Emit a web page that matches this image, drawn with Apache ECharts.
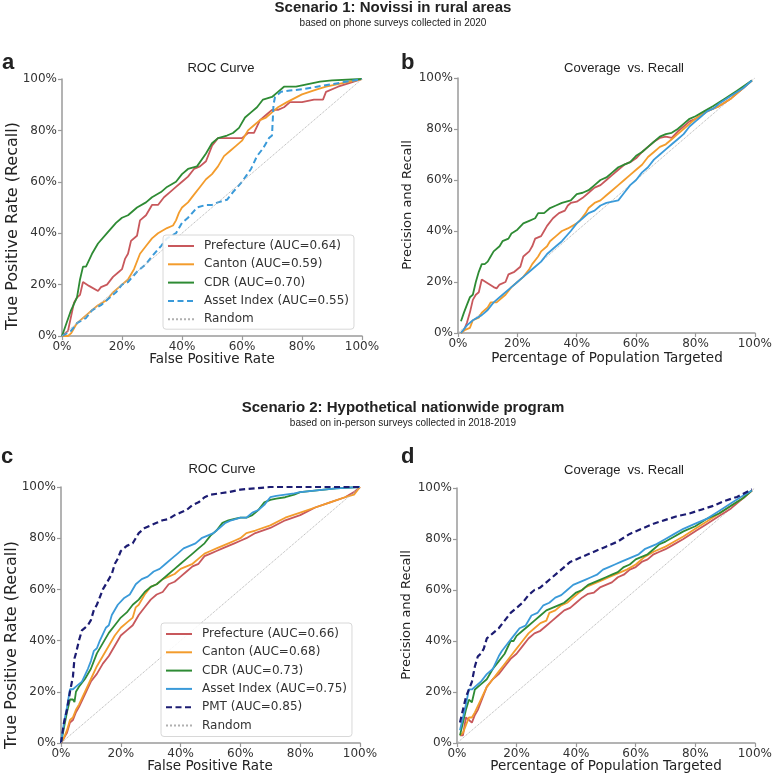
<!DOCTYPE html>
<html>
<head>
<meta charset="utf-8">
<script src="https://cdn.jsdelivr.net/npm/echarts@6/dist/echarts.min.js"></script>
<style>html,body{margin:0;padding:0;background:#fff}#c{width:775px;height:778px}</style>
</head>
<body>
<div id="c"></div>
<script>
// ---------- Data (x = %, y = %) ----------
const tickValues = [0, 20, 40, 60, 80, 100];
const randomLine = [[0, 0], [100, 100]];

// Panel a: ROC, Scenario 1
const aPrefecture = [[0,0],[2,2],[4,13],[5,15],[6,16],[7,21],[9,19.5],[12,17.5],[13,19],[15,20],[17,23],[19,25],[20,26],[21,30],[22,32],[23,37],[25,39],[26,45],[28,47],[30,51],[32,51],[34,54],[36,56],[38,58],[40,60],[42,62],[44,65],[46,66],[48,68],[50,74],[52,77],[55,77],[58,77],[60,77],[62,79],[64,79],[66,84],[68,86],[70,88],[72,88],[74,89],[76,91],[80,91],[84,92],[87,92],[88,95],[92,97],[96,98.5],[100,100]];
const aCanton = [[0,0],[2,0],[3,1],[4,3],[5,5],[8,8],[10,10],[12,12],[15,14],[17,17],[20,20],[22,22],[24,26],[26,32],[28,35],[30,38],[32,40],[35,42],[37,43],[38,45],[39,48],[40,50],[42,52],[44,55],[46,58],[48,61],[50,63],[52,66],[54,70],[56,72],[58,74],[60,76],[62,80],[64,82],[66,84],[68,85],[70,87],[72,89],[75,91],[80,94],[85,96],[88,97],[92,98],[100,100]];
const aCDR = [[0,0],[3,10],[5,15],[6,22],[7,27],[8,27],[10,32],[12,36],[15,40],[18,44],[20,46],[22,47],[25,50],[28,52],[30,54],[33,56],[35,58],[38,60],[40,63],[42,65],[45,66],[48,71],[50,75],[52,77],[55,78],[57,79],[59,81],[61,85],[63,87],[65,89],[67,92],[70,93],[72,95],[74,97],[78,97],[82,98],[86,99],[90,99.5],[100,100]];
const aAsset = [[0,0],[3,2],[5,5],[8,7],[10,10],[13,12],[15,14],[18,17],[20,20],[22,21],[25,25],[28,28],[30,31],[33,35],[35,38],[38,40],[40,44],[42,46],[45,50],[48,51],[50,51],[52,52],[55,53],[57,56],[60,60],[63,65],[65,70],[67,73],[69,77],[70,78],[70.5,90],[71,93],[73,95],[76,95.5],[80,96],[85,97],[90,98],[95,99],[100,100]];

// Panel b: Coverage vs Recall, Scenario 1
const bPrefecture = [[1,0],[2,1],[3,4],[4,8],[5,13],[6,15],[7,16],[8,21],[10,19.5],[12,18],[13,17.5],[14,19],[16,20],[17,23],[19,24],[20,25],[21,26],[22,30],[24,32],[25,34],[26,37],[28,38],[29,40],[30,42],[32,45],[34,47],[36,48],[37,50],[38,51],[40,51.5],[42,53],[44,55],[46,57],[48,58],[50,60],[52,62],[54,64],[56,66],[58,67],[60,68.5],[62,71],[64,73],[66,75],[68,76.5],[70,77],[72,76.5],[74,79],[76,81],[78,83],[80,84],[84,87],[88,89],[92,92],[96,96],[99,99]];
const bCanton = [[1,0],[2,1],[4,2],[5,5],[7,6],[8,8],[10,10],[11,12],[13,12],[15,14],[16,15],[18,18],[20,20],[22,22],[24,25],[25,27],[27,30],[28,32],[30,34],[31,36],[33,38],[35,40],[37,41],[40,43],[41,44],[43,47],[44,49],[46,51],[48,52],[50,54],[52,56],[54,58],[56,60],[58,62],[60,64],[62,66],[64,69],[66,71],[68,73],[70,74],[72,76],[74,78],[76,80],[78,82],[80,84],[84,87],[88,89],[92,92],[96,96],[99,99]];
const bCDR = [[1,4.6],[2,8],[3,11],[4,14],[5,15],[6,20],[7,24],[8,27],[9,27],[10,28],[11,30],[12,32],[14,34],[15,36],[17,37],[18,39],[20,40.5],[22,43],[24,44],[26,45],[27,47],[29,47],[31,49],[33,50],[35,51],[38,52],[40,54.5],[42,55],[44,56],[46,58],[48,60],[50,61],[52,63],[54,65],[56,66],[58,67],[60,69.5],[62,71],[64,73],[66,75],[68,77],[70,78],[72,78.5],[74,80],[76,82],[78,84],[80,85],[83,87],[86,89],[90,92],[94,95],[99,99]];
const bAsset = [[1,0],[3,3],[5,5],[8,7],[10,9],[12,12],[15,15],[18,18],[20,20],[22,22],[25,25],[28,28],[30,31],[33,34],[35,36],[38,40],[40,43],[42,45],[44,47],[46,48],[48,50],[50,51],[52,51.5],[54,52],[56,55],[58,58],[60,60],[62,63],[64,65],[66,68],[68,70],[70,72],[72,74],[74,76],[76,78],[78,81],[80,83],[82,85],[84,87],[86,88],[88,90],[92,93],[96,96],[99,99]];

// Panel c: ROC, Scenario 2
const cPrefecture = [[0,0],[1,2],[2,4],[3,8],[4,9],[5,12],[6,14],[8,19],[10,24],[12,27],[14,31],[16,34],[18,38],[20,42],[22,44],[24,46],[26,50],[28,53],[30,56],[32,58],[34,59],[36,62],[38,63],[40,65],[42,67],[44,69],[46,70],[48,73],[50,74],[52,75],[54,76],[56,77],[58,78],[60,79],[62,80],[65,82],[70,84],[75,87],[80,89],[85,92],[90,94],[95,96],[98,98],[100,100]];
const cCanton = [[0,0],[1,2],[2,5],[3,9],[4,10],[5,13],[6,15],[8,20],[10,25],[12,30],[14,34],[16,38],[18,42],[20,45],[22,47],[24,49],[25,53],[26,54],[28,58],[30,61],[32,62],[34,64],[36,65],[38,66],[40,68],[42,69],[44,70],[46,72],[48,74],[50,75],[52,76],[54,77],[56,78],[58,79],[60,80],[62,82],[65,83],[70,85],[75,88],[80,90],[85,92],[90,94],[95,96],[98,97],[100,100]];
const cCDR = [[0,0],[1,6],[2,12],[3,17],[4,17],[4.5,16],[5,20],[6,22],[8,25],[10,29],[12,35],[14,39],[16,43],[18,46],[20,49],[22,51],[24,54],[26,56],[28,59],[30,61],[32,62],[34,64],[36,66],[38,68],[40,70],[42,72],[44,74],[46,76],[48,78],[50,81],[52,83],[54,86],[56,87],[58,87.5],[60,88],[62,88],[64,89],[66,91],[68,94],[70,95],[72,95.5],[75,96],[78,97],[80,98],[84,98.5],[88,99],[92,99.5],[100,100]];
const cAsset = [[0,0],[1,8],[2,14],[3,21],[4,21],[5,22],[7,24],[9,29],[10,32],[11,36],[12,37],[13,40],[15,45],[16,46],[17,50],[19,54],[21,56.5],[23,58],[25,62],[27,64],[29,65],[31,67],[33,68],[35,70],[37,72],[39,74],[41,76],[43,77],[45,78],[47,80],[49,81],[51,82],[53,84],[55,86],[57,87],[60,88],[62,88],[64,90],[66,91],[68,93],[70,96],[72,96.5],[75,97],[78,97.5],[80,98],[84,98.5],[88,99],[92,99.5],[100,100]];
const cPMT = [[0,0],[1,8],[2,13],[3,20],[4,26],[4.5,33],[5,35],[6,40],[7,44],[8,45],[9,46],[10,48],[11,52],[12,54],[13,57],[14,60],[15,62],[17,66],[18,70],[19,72],[20,75],[22,77],[24,78],[25,80],[26,82],[28,84],[30,85],[32,86],[34,87],[36,87.5],[38,89],[40,90],[42,91],[44,93],[46,94],[48,96],[50,97],[53,97.5],[56,98],[60,99],[65,99.5],[70,100],[100,100]];

// Panel d: Coverage vs Recall, Scenario 2
const dPrefecture = [[1,3],[2,3],[3,10],[4,9],[5,8],[6,11],[7,13],[8,16],[10,22],[12,25],[14,27],[16,30],[18,33],[20,35],[22,38],[24,41],[26,43],[28,44],[30,46],[32,48],[34,50],[36,52],[38,53],[40,55],[42,57],[44,58.5],[46,59],[48,61],[50,62],[52,63],[54,65],[56,66],[58,68],[60,69],[62,71],[64,72],[66,74],[68,75],[70,76],[73,78],[76,80],[80,83],[84,86],[88,89],[92,92],[96,96],[99,99]];
const dCanton = [[1,3],[2,4],[3,7],[4,10],[5,10],[6,12],[8,17],[10,22],[12,25],[14,28],[16,31],[18,34],[20,37],[22,40],[24,43],[26,45],[28,47],[30,48],[31,51],[33,52],[35,54],[37,55],[39,57],[41,59],[43,61],[45,62],[47,63],[49,64],[51,65],[53,66],[55,67],[57,68],[60,70],[63,73],[66,75],[70,77],[73,79],[76,81],[80,84],[84,87],[88,90],[92,93],[96,96],[99,99]];
const dCDR = [[1,3],[2,8],[3,13],[4,17],[5,16],[6,21],[8,23],[10,25],[12,29],[14,32],[16,35],[18,40],[19,40],[20,42],[22,44],[24,46],[26,48],[28,50],[30,52],[32,53],[34,54],[36,55],[38,57],[40,59],[42,60],[44,62],[46,63],[48,64],[50,65],[52,66],[54,67],[56,69],[58,70],[60,72],[62,73],[64,74],[66,76],[68,78],[70,79],[73,81],[76,83],[80,85],[84,88],[88,90],[92,93],[96,96],[99,99]];
const dAsset = [[1,5],[2,10],[3,15],[4,21],[5,21],[6,22],[8,24],[10,27],[12,29],[14,34],[15,36],[17,39],[19,42],[21,45],[23,46],[25,50],[27,51],[29,54],[31,55],[33,57],[35,58],[37,60],[39,62],[41,63],[43,64],[45,65],[47,66],[49,68],[51,69],[53,70],[55,71],[57,72],[59,73],[61,74],[63,76],[65,77],[67,78],[70,80],[73,82],[76,84],[80,86],[84,88],[88,91],[92,94],[96,97],[99,99]];
const dPMT = [[1,8],[2,13],[3,18],[4,21],[5,24],[6,30],[7,34],[8,35],[9,37],[10,41],[12,43],[14,45],[16,48],[18,51],[20,53],[22,55],[24,58],[26,60],[28,61],[30,63],[32,65],[34,67],[36,69],[38,71],[40,72],[42,73],[44,74],[46,75],[48,76],[50,77],[54,79],[58,82],[62,84],[66,86],[70,87.5],[74,89],[78,90],[82,91.5],[86,93],[90,95],[94,96.5],[99,99.5]];

// ---------- Styling ----------
const COL = { pref: '#c8585c', canton: '#f39c2c', cdr: '#2e8b34', asset: '#3a9ad9', pmt: '#1c1c72', rand: '#b0b0b0' };
const FONT = 'DejaVu Sans';
const grids = [
  { left: 62, top: 79, width: 300, height: 257 },
  { left: 458, top: 78, width: 298, height: 255 },
  { left: 61, top: 487, width: 299, height: 256 },
  { left: 457, top: 488, width: 299, height: 255 }
];
function axis(i) {
  return {
    gridIndex: i, type: 'value', min: 0, max: 100, interval: 20,
    axisLine: { show: true, lineStyle: { color: '#9a9a9a', width: 1.5 } },
    axisTick: { show: true, length: 4, lineStyle: { color: '#9a9a9a', width: 1.2 } },
    splitLine: { show: false },
    axisLabel: { formatter: '{value}%', color: '#333', fontSize: 12, fontFamily: FONT, margin: 5, showMinLabel: true, showMaxLabel: true }
  };
}
function ln(name, data, i, color, type, width) {
  return {
    name, type: 'line', data, xAxisIndex: i, yAxisIndex: i, showSymbol: false, symbol: 'none',
    lineStyle: { color, width: width || 1.8, type: type || 'solid' }, itemStyle: { color },
    animation: false, silent: true
  };
}
function randomSeries(i, name) {
  return ln(name, randomLine, i, COL.rand, 'dotted', 1);
}
const series = [
  ln('Prefecture (AUC=0.64)', aPrefecture, 0, COL.pref),
  ln('Canton (AUC=0.59)', aCanton, 0, COL.canton),
  ln('CDR (AUC=0.70)', aCDR, 0, COL.cdr),
  ln('Asset Index (AUC=0.55)', aAsset, 0, COL.asset, [6, 3.5], 2),
  randomSeries(0, 'Random'),
  randomSeries(1, 'b Random'),
  ln('b Prefecture', bPrefecture, 1, COL.pref),
  ln('b Canton', bCanton, 1, COL.canton),
  ln('b CDR', bCDR, 1, COL.cdr),
  ln('b Asset', bAsset, 1, COL.asset),
  ln('Prefecture (AUC=0.66)', cPrefecture, 2, COL.pref),
  ln('Canton (AUC=0.68)', cCanton, 2, COL.canton),
  ln('CDR (AUC=0.73)', cCDR, 2, COL.cdr),
  ln('Asset Index (AUC=0.75)', cAsset, 2, COL.asset),
  ln('PMT (AUC=0.85)', cPMT, 2, COL.pmt, [6, 3.5], 2.2),
  randomSeries(2, 'Random '),
  randomSeries(3, 'd Random'),
  ln('d Prefecture', dPrefecture, 3, COL.pref),
  ln('d Canton', dCanton, 3, COL.canton),
  ln('d CDR', dCDR, 3, COL.cdr),
  ln('d Asset', dAsset, 3, COL.asset),
  ln('d PMT', dPMT, 3, COL.pmt, [6, 3.5], 2.2)
];
function legend(left, top, data, padding) {
  return {
    orient: 'vertical', left, top, data, itemWidth: 26, itemHeight: 14, itemGap: 6.3,
    padding, backgroundColor: 'rgba(255,255,255,0.85)', borderColor: '#d8d8d8', borderWidth: 1, borderRadius: 3,
    itemStyle: { color: 'rgba(0,0,0,0)', borderColor: 'rgba(0,0,0,0)', borderWidth: 0, opacity: 0 },
    textStyle: { fontFamily: FONT, fontSize: 12, color: '#333', padding: [0, 0, 0, 5] },
    selectedMode: false
  };
}
function txt(text, x, y, font, align, rot) {
  return { type: 'text', x, y, rotation: rot || 0, silent: true,
    style: { text, font, fill: '#222', textAlign: align || 'center', textVerticalAlign: 'middle', align: align || 'center', verticalAlign: 'middle' } };
}
const TF = '"Liberation Sans", Arial, sans-serif';
const option = {
  backgroundColor: '#fff',
  animation: false,
  grid: grids,
  xAxis: [0, 1, 2, 3].map(axis),
  yAxis: [0, 1, 2, 3].map(axis),
  legend: [
    legend(163, 235, ['Prefecture (AUC=0.64)', 'Canton (AUC=0.59)', 'CDR (AUC=0.70)', 'Asset Index (AUC=0.55)', 'Random'], [5, 5, 4, 4]),
    legend(161, 623, ['Prefecture (AUC=0.66)', 'Canton (AUC=0.68)', 'CDR (AUC=0.73)', 'Asset Index (AUC=0.75)', 'PMT (AUC=0.85)', 'Random '], [5, 5, 5, 4])
  ],
  graphic: [
    txt('Scenario 1: Novissi in rural areas', 393, 8, 'bold 15px ' + TF),
    txt('based on phone surveys collected in 2020', 393, 23, '10px ' + TF),
    txt('a', 2, 63, 'bold 22px ' + TF, 'left'),
    txt('ROC Curve', 221, 68, '13px ' + TF),
    txt('b', 401, 63, 'bold 22px ' + TF, 'left'),
    txt('Coverage  vs. Recall', 624, 68, '13px ' + TF),
    txt('False Positive Rate', 212, 359, '13.5px ' + FONT),
    txt('True Positive Rate (Recall)', 12.5, 226, '16px ' + FONT, 'center', Math.PI / 2),
    txt('Percentage of Population Targeted', 607, 358, '13.5px ' + FONT),
    txt('Precision and Recall', 407.5, 205, '13px ' + FONT, 'center', Math.PI / 2),
    txt('Scenario 2: Hypothetical nationwide program', 403, 407.5, 'bold 15px ' + TF),
    txt('based on in-person surveys collected in 2018-2019', 403, 423, '10px ' + TF),
    txt('c', 1, 457, 'bold 22px ' + TF, 'left'),
    txt('ROC Curve', 222, 469.5, '13px ' + TF),
    txt('d', 401, 457, 'bold 22px ' + TF, 'left'),
    txt('Coverage  vs. Recall', 624, 470, '13px ' + TF),
    txt('False Positive Rate', 210, 766, '13.5px ' + FONT),
    txt('True Positive Rate (Recall)', 12, 645, '16px ' + FONT, 'center', Math.PI / 2),
    txt('Percentage of Population Targeted', 606, 766, '13.5px ' + FONT),
    txt('Precision and Recall', 407, 615, '13px ' + FONT, 'center', Math.PI / 2)
  ],
  series
};
const chart = echarts.init(document.getElementById('c'), null, { renderer: 'canvas' });
chart.setOption(option);
</script>
</body>
</html>
